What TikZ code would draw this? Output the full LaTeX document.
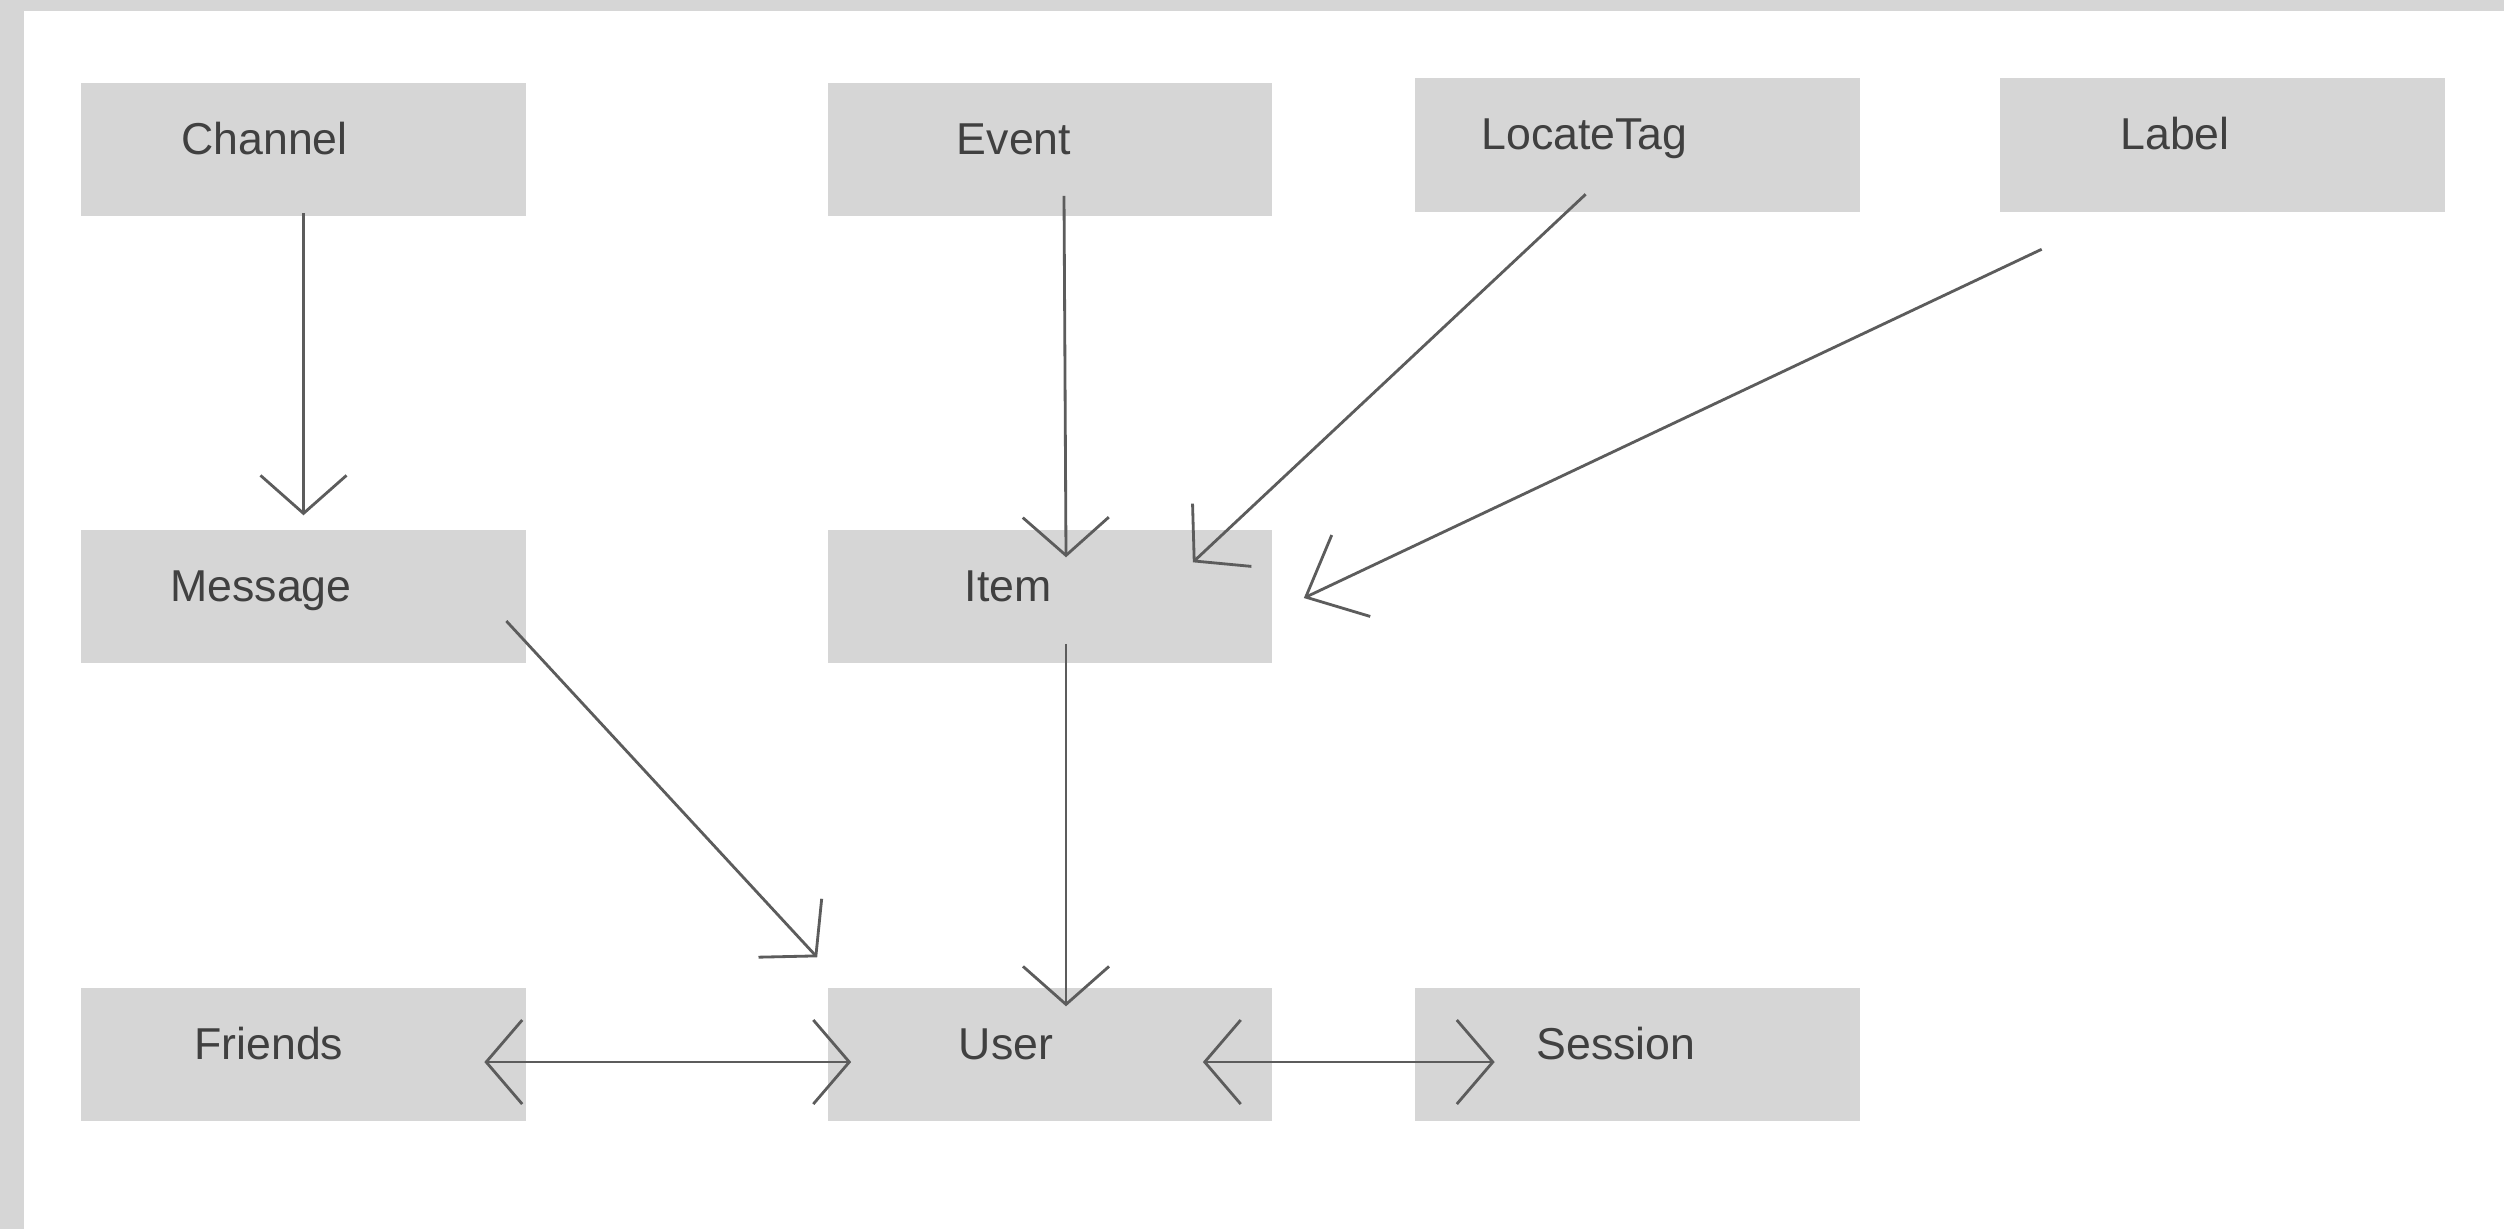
\documentclass[tikz,border=0pt]{standalone}
\usepackage{fontspec}
\setmainfont{Liberation Sans}
\usetikzlibrary{calc,arrows.meta}
\definecolor{boxgray}{HTML}{D6D6D6}
\definecolor{txtgray}{HTML}{404040}
\definecolor{linegray}{HTML}{5C5C5C}
\tikzset{
  box/.style={fill=boxgray, minimum width=4.44cm, minimum height=1.33cm, inner sep=0pt},
  boxtext/.style={anchor=base west, inner sep=0pt, text=txtgray, font=\fontsize{12.7pt}{15pt}\selectfont},
  link/.style={draw=linegray, line width=0.8pt, line join=round, -{Straight Barb[length=0.38cm,width=0.86cm]}},
  twoway/.style={link, {Straight Barb[length=0.36cm,width=0.84cm]}-{Straight Barb[length=0.36cm,width=0.84cm]}}
}

\begin{document}
\begin{tikzpicture}[x=0.01cm, y=-0.01cm]
%frame
\fill[boxgray] (0,0) rectangle (2504,1229);
\fill[white] (24,11) rectangle (2504,1229);
\useasboundingbox (0,0) rectangle (2504,1229);

%boxes with their names
\foreach \nm/\cx/\cy/\dx/\txt in {channel/303.5/149.5/100/Channel, event/1050/149.5/129/Event, locate/1637.5/145/66/LocateTag, label/2222.5/145/120/Label, message/303.5/596.5/89/Message, item/1050/596.5/137/Item, friends/303.5/1054.5/113/Friends, user/1050/1054.5/131/User, session/1637.5/1054.5/121/Session}
{\node[box] (\nm) at (\cx,\cy) {};
 \node[boxtext] (\nm-t) at ($(\nm.west)+(\dx,4.5)$) {\txt};}

%links
\draw[link] ($(channel.south)+(0,-4)$) -- ($(message.north)+(0,-14)$);
\draw[link] ($(event.south)+(14,-21)$) -- ($(item.north)+(16,28)$);
\draw[link] ($(locate.south west)+(171,-18)$) -- ($(item.north east)+(-80,33)$);
\draw[link, -{Straight Barb[length=0.5cm,width=0.9cm]}] ($(label.south west)+(42,37)$) -- ($(item.east)+(31,1.5)$);
\draw[link] ($(message.east)+(-20,24.5)$) -- ($(user.north west)+(-10,-30)$);
\draw[link] ($(item.south)+(16,-20)$) -- ($(user.north)+(16,19)$);
\draw[twoway] ($(friends.east)+(-42,7.5)$) -- ($(user.west)+(24,7.5)$);
\draw[twoway] ($(user.east)+(-70,7.5)$) -- ($(session.west)+(80,7.5)$);
\end{tikzpicture}
\end{document}
